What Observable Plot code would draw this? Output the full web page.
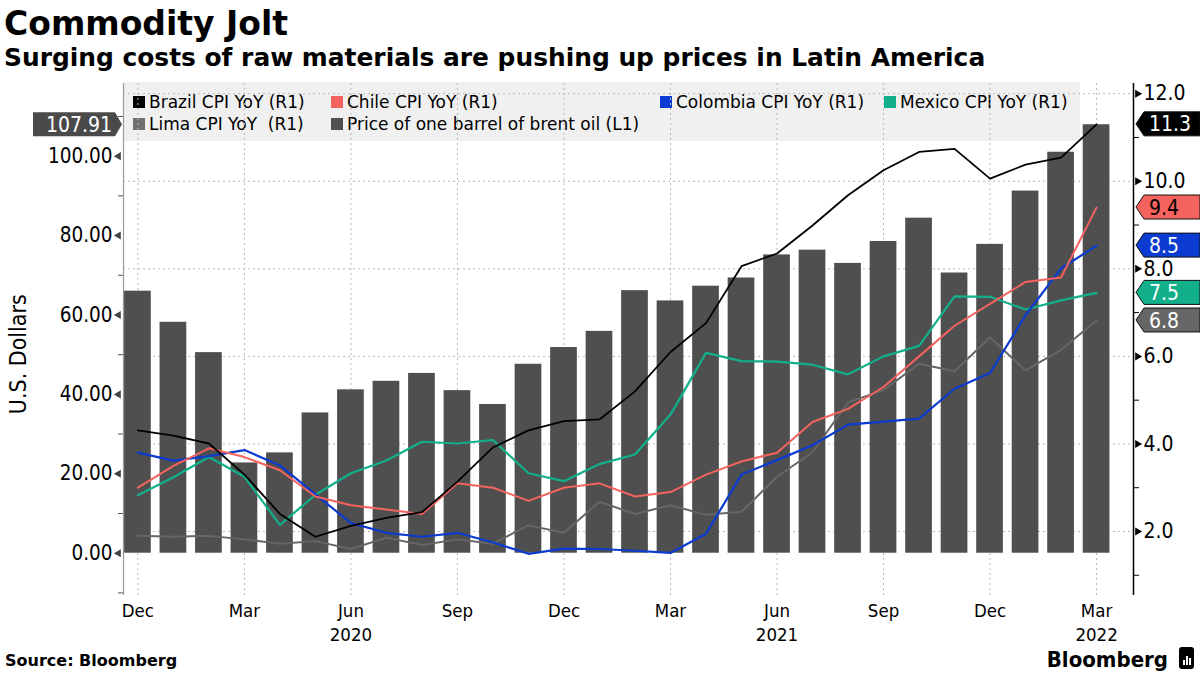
<!DOCTYPE html>
<html>
<head>
<meta charset="utf-8">
<script src="https://cdn.jsdelivr.net/npm/d3@7"></script>
<script src="https://cdn.jsdelivr.net/npm/@observablehq/plot@0.6"></script>
<style>
  body { margin: 0; background: #fff; }
  #wrap { position: relative; width: 1200px; height: 675px; overflow: hidden; background: #fff; font-family: "DejaVu Sans", sans-serif; }
  #header { position: relative; height: 80px; }
  #title { position: absolute; left: 4px; top: 7px; font: bold 33px/1 "DejaVu Sans", sans-serif; color: #000; }
  #subtitle { position: absolute; left: 4px; top: 46px; font: bold 24.9px/1 "DejaVu Sans", sans-serif; color: #000; }
  #legend { position: absolute; left: 123px; top: 82px; width: 957px; height: 59px; background: #f0f0f0; z-index: 0; }
  .li { position: absolute; font: 17px/1 "DejaVu Sans", sans-serif; color: #000; white-space: pre; }
  .sw { display: inline-block; width: 12px; height: 12px; margin-right: 4px; vertical-align: 0px; }
  #chart { position: relative; z-index: 1; height: 570px; }
  #footer { position: relative; height: 25px; }
  #source { position: absolute; left: 5px; top: 3px; font: bold 16px/1 "DejaVu Sans", sans-serif; color: #000; }
  #logo { position: absolute; right: 32px; top: -1px; font: bold 22px/1 "DejaVu Sans Condensed", "DejaVu Sans", sans-serif; font-stretch: condensed; color: #000; }
  #icon { position: absolute; left: 1179px; top: -3px; width: 15px; height: 22px; background: #000; border-radius: 3px; }
  #icon i { position: absolute; bottom: 4px; width: 2px; background: #fff; }
</style>
</head>
<body>
<div id="wrap">
  <div id="header">
    <div id="title">Commodity Jolt</div>
    <div id="subtitle">Surging costs of raw materials are pushing up prices in Latin America</div>
  </div>
  <div id="legend"></div>
  <div id="chart"></div>
  <div id="footer">
    <div id="source">Source: Bloomberg</div>
    <div id="logo">Bloomberg</div>
    <div id="icon"><i style="left:4px;height:5px"></i><i style="left:7px;height:9px"></i><i style="left:10px;height:7px"></i></div>
  </div>
</div>
<script>
// ---------- data ----------
const months = ["Dec","Jan","Feb","Mar","Apr","May","Jun","Jul","Aug","Sep","Oct","Nov",
                "Dec","Jan","Feb","Mar","Apr","May","Jun","Jul","Aug","Sep","Oct","Nov",
                "Dec","Jan","Feb","Mar"];
const quarterTicks = [0, 3, 6, 9, 12, 15, 18, 21, 24, 27];
const yearTicks = [6, 18, 27];
const yearLabels = ["2020", "2021", "2022"];

const oil = [66.00, 58.16, 50.52, 22.74, 25.27, 35.33, 41.15, 43.30, 45.28, 40.95, 37.46, 47.59,
             51.80, 55.88, 66.13, 63.54, 67.25, 69.32, 75.13, 76.33, 72.99, 78.52, 84.38, 70.57,
             77.78, 91.21, 100.99, 107.91];
const brazil = [4.31, 4.19, 4.01, 3.30, 2.40, 1.88, 2.13, 2.31, 2.44, 3.14, 3.92, 4.31,
                4.52, 4.56, 5.20, 6.10, 6.76, 8.06, 8.35, 8.99, 9.68, 10.25, 10.67, 10.74,
                10.06, 10.38, 10.54, 11.30];
const chile = [3.0, 3.5, 3.9, 3.7, 3.4, 2.8, 2.6, 2.5, 2.4, 3.1, 3.0, 2.7,
               3.0, 3.1, 2.8, 2.9, 3.3, 3.6, 3.8, 4.5, 4.8, 5.3, 6.0, 6.7,
               7.2, 7.7, 7.8, 9.4];
const colombia = [3.80, 3.62, 3.72, 3.86, 3.51, 2.85, 2.19, 1.97, 1.88, 1.97, 1.75, 1.49,
                  1.61, 1.60, 1.56, 1.51, 1.95, 3.30, 3.63, 3.97, 4.44, 4.51, 4.58, 5.26,
                  5.62, 6.94, 8.01, 8.53];
const mexico = [2.83, 3.24, 3.70, 3.25, 2.15, 2.84, 3.33, 3.62, 4.05, 4.01, 4.09, 3.33,
                3.15, 3.54, 3.76, 4.67, 6.08, 5.89, 5.88, 5.81, 5.59, 6.00, 6.24, 7.37,
                7.36, 7.07, 7.28, 7.45];
const lima = [1.90, 1.88, 1.90, 1.82, 1.72, 1.78, 1.60, 1.86, 1.69, 1.82, 1.72, 2.14,
              1.97, 2.68, 2.40, 2.60, 2.38, 2.45, 3.25, 3.81, 4.95, 5.23, 5.83, 5.66,
              6.43, 5.68, 6.15, 6.82];

const legendNames = ["Brazil CPI YoY (R1)", "Chile CPI YoY (R1)", "Colombia CPI YoY (R1)", "Mexico CPI YoY (R1)",
                     "Lima CPI YoY  (R1)", "Price of one barrel of brent oil (L1)"];
const leftTicks = [0, 20, 40, 60, 80, 100];
const leftMinor = [-10, 10, 30, 50, 70, 90, 110];
const rightTicks = [2, 4, 6, 8, 10, 12];
const rightMinor = [1, 3, 5, 7, 9, 11];

// ---------- scales / styles ----------
const leftDomain = [-10.65, 118.3];
const rightDomain = [0.538, 12.233];
const xDomain = [-0.406, 28.04];
const toR = d3.scaleLinear(leftDomain, rightDomain);

const C = {brazil: "#000000", chile: "#f4635e", colombia: "#0b3bd0", mexico: "#12b08a", lima: "#666666", oil: "#4f4f4f", limaSw: "#707070"};

const series = [
  {key: "lima", values: lima, color: C.lima, w: 2, text: "#fff"},
  {key: "mexico", values: mexico, color: C.mexico, w: 2.2, text: "#fff"},
  {key: "colombia", values: colombia, color: C.colombia, w: 2.2, text: "#fff"},
  {key: "chile", values: chile, color: C.chile, w: 2, text: "#000"},
  {key: "brazil", values: brazil, color: C.brazil, w: 1.8, text: "#fff"}
];
const bars = oil.map((v, i) => ({i, v}));

// ---------- legend (HTML, behind the SVG) ----------
const legendItems = [
  {name: legendNames[0], color: C.brazil, x: 10, y: 12},
  {name: legendNames[1], color: C.chile, x: 208, y: 12},
  {name: legendNames[2], color: C.colombia, x: 537, y: 12},
  {name: legendNames[3], color: C.mexico, x: 761, y: 12},
  {name: legendNames[4], color: C.limaSw, x: 10, y: 34},
  {name: legendNames[5], color: C.oil, x: 208, y: 34}
];
const lg = document.getElementById("legend");
for (const it of legendItems) {
  const d = document.createElement("div");
  d.className = "li";
  d.style.left = it.x + "px";
  d.style.top = it.y + "px";
  d.innerHTML = `<span class="sw" style="background:${it.color}"></span>`;
  d.appendChild(document.createTextNode(it.name));
  lg.appendChild(d);
}

// ---------- chart ----------
const gridStyle = {stroke: "#b8b8b8", strokeOpacity: 1, strokeDasharray: "2,3", strokeWidth: 1};
const chart = Plot.plot({
  width: 1200,
  height: 570,
  marginTop: 3,
  marginBottom: 55,
  marginLeft: 123,
  marginRight: 67,
  style: {background: "transparent", fontFamily: "'DejaVu Sans Condensed', 'DejaVu Sans', sans-serif", fontStretch: "condensed", fontSize: "20px", color: "#000", overflow: "visible"},
  x: {type: "linear", domain: xDomain},
  y: {domain: rightDomain},
  marks: [
    Plot.gridX({ticks: quarterTicks, ...gridStyle}),
    Plot.gridY({ticks: rightTicks, ...gridStyle}),
    Plot.rect(bars, {x1: d => d.i - 0.5, x2: d => d.i + 0.5, y1: () => toR(0), y2: d => toR(d.v), insetLeft: 4.4, insetRight: 4.4, fill: C.oil}),
    ...series.map(s => Plot.line(s.values, {x: (d, i) => i, y: d => d, stroke: s.color, strokeWidth: s.w})),
    Plot.ruleX([xDomain[0]], {stroke: "#9a9a9a", strokeWidth: 1.2}),
    Plot.ruleX([xDomain[1]], {stroke: "#000", strokeWidth: 1.5}),
    // left axis (oil, USD)
    Plot.axisY({anchor: "left", ticks: leftTicks.map(toR), tickFormat: d => toR.invert(d).toFixed(2), tickSize: 0, tickPadding: 11, fontSize: 20.5, label: null}),
    Plot.axisY({anchor: "left", ticks: leftMinor.map(toR), tickFormat: () => "", tickSize: 5, label: null, stroke: "#555"}),
    Plot.dot(leftTicks, {y: d => toR(d), frameAnchor: "left", dx: -5, symbol: "triangle", rotate: -90, r: 3, fill: "#444"}),
    // right axis (CPI %)
    Plot.axisY({anchor: "right", ticks: rightTicks, tickFormat: d => d.toFixed(1), tickSize: 0, tickPadding: 10, fontSize: 21, label: null}),
    Plot.axisY({anchor: "right", ticks: rightMinor, tickFormat: () => "", tickSize: 5, label: null}),
    Plot.dot(rightTicks, {y: d => d, frameAnchor: "right", dx: 4, symbol: "triangle", rotate: 90, r: 3, fill: "#000"}),
    // x axis
    Plot.axisX({ticks: quarterTicks, tickFormat: i => months[i], tickSize: 0, tickPadding: 8, fontSize: 18.5, label: null}),
    Plot.axisX({ticks: yearTicks, tickFormat: i => yearLabels[yearTicks.indexOf(i)], tickSize: 0, tickPadding: 32, fontSize: 18.5, label: null})
  ]
});
document.getElementById("chart").appendChild(chart);

// ---------- value tags and axis title ----------
const svg = d3.select(chart);
const ys = chart.scale("y");
const xs = chart.scale("x");
const xr = xs.apply(xDomain[1]);
const xl = xs.apply(xDomain[0]);
const g = svg.append("g")
  .attr("font-family", "'DejaVu Sans Condensed', 'DejaVu Sans', sans-serif")
  .attr("font-size", 21)
  .attr("text-anchor", "start");

for (const s of [...series].reverse()) {
  const v = s.values[s.values.length - 1];
  const yy = ys.apply(v);
  const x0 = xr + 3, h = 12;
  g.append("path")
    .attr("d", `M${x0},${yy} L${x0 + 8},${yy - h} L1200,${yy - h} L1200,${yy + h} L${x0 + 8},${yy + h} Z`)
    .attr("fill", s.color).attr("stroke", "#111").attr("stroke-width", 1);
  g.append("text").attr("x", x0 + 13).attr("y", yy).attr("dy", "0.36em").attr("text-anchor", "start")
    .attr("fill", s.text).attr("font-stretch", "condensed").text(v.toFixed(1));
}
{
  const v = oil[oil.length - 1];
  const yy = ys.apply(toR(v));
  const x1 = xl - 1, h = 12;
  g.append("path")
    .attr("d", `M${x1},${yy} L${x1 - 7},${yy - h} L33,${yy - h} L33,${yy + h} L${x1 - 7},${yy + h} Z`)
    .attr("fill", "#4a4a4a");
  g.append("text").attr("x", x1 - 10).attr("y", yy).attr("dy", "0.36em").attr("text-anchor", "end")
    .attr("fill", "#fff").attr("font-stretch", "condensed").text(v.toFixed(2));
}
svg.append("text")
  .attr("transform", `translate(18, ${ys.apply(toR(50))}) rotate(-90)`)
  .attr("text-anchor", "middle").attr("dy", "0.36em")
  .attr("font-family", "'DejaVu Sans', sans-serif").attr("font-size", 23)
  .text("U.S. Dollars");
</script>
</body>
</html>
